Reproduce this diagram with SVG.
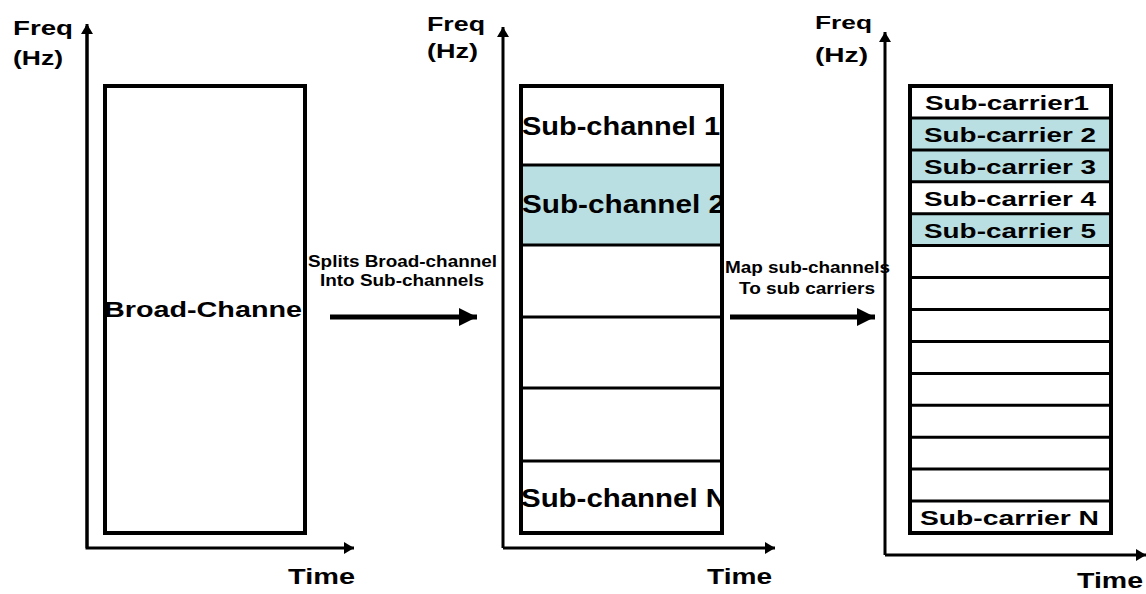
<svg xmlns="http://www.w3.org/2000/svg" width="1146" height="594" viewBox="0 0 1146 594">
  <style>
    text { font-family: "Liberation Sans", Arial, sans-serif; font-weight: bold; fill: #000; }
    .axis { stroke: #000; stroke-width: 3; fill: none; }
    .frame { fill: none; stroke: #000; stroke-width: 4; }
    .rule { stroke: #000; stroke-width: 3; }
    .hl { fill: #B9DFE2; }
    .plain { fill: #fff; }
    .ax-lbl { font-size: 20px; }
    .time { font-size: 22px; }
    .big { font-size: 26px; }
    .row { font-size: 21px; }
    .note { font-size: 16px; }
    .flow { stroke: #000; stroke-width: 5; fill: none; }
  </style>
  <defs>
    <marker id="axisHead" markerUnits="userSpaceOnUse" markerWidth="12" markerHeight="12" refX="10" refY="6" orient="auto">
      <path d="M0,0 L10,6 L0,12 z" fill="#000"/>
    </marker>
    <marker id="flowHead" markerUnits="userSpaceOnUse" markerWidth="20" markerHeight="20" refX="18" refY="9" orient="auto">
      <path d="M0,0 L18,9 L0,18 z" fill="#000"/>
    </marker>
    <clipPath id="clipBroad"><rect x="103" y="86" width="204" height="447"/></clipPath>
    <clipPath id="clipSub"><rect x="519" y="86" width="205" height="447"/></clipPath>
  </defs>

  <!-- Panel 1: the whole channel -->
  <g id="panel-broad">
    <g id="axes-broad">
      <polyline class="axis" points="87,26 87,548 354,548" marker-end="url(#axisHead)"/>
      <line class="axis" x1="87" y1="548" x2="87" y2="24" marker-end="url(#axisHead)"/>
      <text class="ax-lbl" x="13" y="35" textLength="60" lengthAdjust="spacingAndGlyphs">Freq</text>
      <text class="ax-lbl" x="13" y="65" textLength="50" lengthAdjust="spacingAndGlyphs">(Hz)</text>
      <text class="time" x="288" y="584" textLength="67" lengthAdjust="spacingAndGlyphs">Time</text>
    </g>
    <g id="broad-channel">
      <rect class="plain" x="105" y="86" width="200" height="447"/>
      <text class="row" x="104" y="317" textLength="206" lengthAdjust="spacingAndGlyphs" clip-path="url(#clipBroad)" style="font-size:22px">Broad-Channel</text>
      <rect class="frame" x="105" y="86" width="200" height="447"/>
    </g>
  </g>

  <!-- Panel 2: sub-channels -->
  <g id="panel-sub">
    <g id="axes-sub">
      <line class="axis" x1="503" y1="548" x2="775" y2="548" marker-end="url(#axisHead)"/>
      <line class="axis" x1="503" y1="548" x2="503" y2="27" marker-end="url(#axisHead)"/>
      <text class="ax-lbl" x="427" y="31" textLength="58" lengthAdjust="spacingAndGlyphs">Freq</text>
      <text class="ax-lbl" x="427" y="58" textLength="51" lengthAdjust="spacingAndGlyphs">(Hz)</text>
      <text class="time" x="707" y="584" textLength="65" lengthAdjust="spacingAndGlyphs">Time</text>
    </g>
    <g id="sub-channels">
      <rect class="plain" x="521" y="86" width="201" height="447"/>
      <rect class="hl" x="521" y="165" width="201" height="80"/>
      <g clip-path="url(#clipSub)">
        <text class="big" x="522" y="135" textLength="198" lengthAdjust="spacingAndGlyphs">Sub-channel 1</text>
        <text class="big" x="522" y="213" textLength="203" lengthAdjust="spacingAndGlyphs">Sub-channel 2</text>
        <text class="big" x="521" y="507" textLength="206" lengthAdjust="spacingAndGlyphs">Sub-channel N</text>
      </g>
      <line class="rule" x1="521" y1="165" x2="722" y2="165"/>
      <line class="rule" x1="521" y1="245" x2="722" y2="245"/>
      <line class="rule" x1="521" y1="317" x2="722" y2="317"/>
      <line class="rule" x1="521" y1="388" x2="722" y2="388"/>
      <line class="rule" x1="521" y1="461" x2="722" y2="461"/>
      <rect class="frame" x="521" y="86" width="201" height="447"/>
    </g>
  </g>

  <!-- Panel 3: sub-carriers -->
  <g id="panel-carrier">
    <g id="axes-carrier">
      <line class="axis" x1="885" y1="555" x2="1146" y2="555" marker-end="url(#axisHead)"/>
      <line class="axis" x1="885" y1="555" x2="885" y2="32" marker-end="url(#axisHead)"/>
      <text class="ax-lbl" x="815" y="29" textLength="57" lengthAdjust="spacingAndGlyphs" style="font-size:18px">Freq</text>
      <text class="ax-lbl" x="815" y="62" textLength="53" lengthAdjust="spacingAndGlyphs">(Hz)</text>
      <text class="time" x="1077" y="588" textLength="66" lengthAdjust="spacingAndGlyphs">Time</text>
    </g>
    <g id="sub-carriers">
      <rect class="plain" x="910" y="86" width="201" height="447"/>
      <rect class="hl" x="910" y="117.9" width="201" height="63.9"/>
      <rect class="hl" x="910" y="213.7" width="201" height="31.9"/>
      <text class="row" x="925" y="109.5" textLength="164" lengthAdjust="spacingAndGlyphs">Sub-carrier1</text>
      <text class="row" x="924" y="141.5" textLength="172" lengthAdjust="spacingAndGlyphs">Sub-carrier 2</text>
      <text class="row" x="924" y="173.5" textLength="172" lengthAdjust="spacingAndGlyphs">Sub-carrier 3</text>
      <text class="row" x="924" y="205.5" textLength="172" lengthAdjust="spacingAndGlyphs">Sub-carrier 4</text>
      <text class="row" x="924" y="237.5" textLength="172" lengthAdjust="spacingAndGlyphs">Sub-carrier 5</text>
      <text class="row" x="920" y="525" textLength="179" lengthAdjust="spacingAndGlyphs">Sub-carrier N</text>
      <g class="rule">
        <line x1="910" y1="117.9" x2="1111" y2="117.9"/>
        <line x1="910" y1="149.9" x2="1111" y2="149.9"/>
        <line x1="910" y1="181.8" x2="1111" y2="181.8"/>
        <line x1="910" y1="213.7" x2="1111" y2="213.7"/>
        <line x1="910" y1="245.6" x2="1111" y2="245.6"/>
        <line x1="910" y1="277.6" x2="1111" y2="277.6"/>
        <line x1="910" y1="309.5" x2="1111" y2="309.5"/>
        <line x1="910" y1="341.4" x2="1111" y2="341.4"/>
        <line x1="910" y1="373.4" x2="1111" y2="373.4"/>
        <line x1="910" y1="405.3" x2="1111" y2="405.3"/>
        <line x1="910" y1="437.2" x2="1111" y2="437.2"/>
        <line x1="910" y1="469.1" x2="1111" y2="469.1"/>
        <line x1="910" y1="501.1" x2="1111" y2="501.1"/>
      </g>
      <rect class="frame" x="910" y="86" width="201" height="447"/>
    </g>
  </g>

  <!-- Transitions between panels -->
  <g id="connectors">
    <g id="split">
      <line class="flow" x1="330" y1="317" x2="477" y2="317" marker-end="url(#flowHead)"/>
      <text class="note" x="308" y="267" textLength="189" lengthAdjust="spacingAndGlyphs">Splits Broad-channel</text>
      <text class="note" x="320" y="286" textLength="164" lengthAdjust="spacingAndGlyphs">Into Sub-channels</text>
    </g>
    <g id="map">
      <line class="flow" x1="730" y1="317" x2="875" y2="317" marker-end="url(#flowHead)"/>
      <text class="note" x="725" y="273" textLength="165" lengthAdjust="spacingAndGlyphs">Map sub-channels</text>
      <text class="note" x="739" y="294" textLength="136" lengthAdjust="spacingAndGlyphs">To sub carriers</text>
    </g>
  </g>
</svg>
